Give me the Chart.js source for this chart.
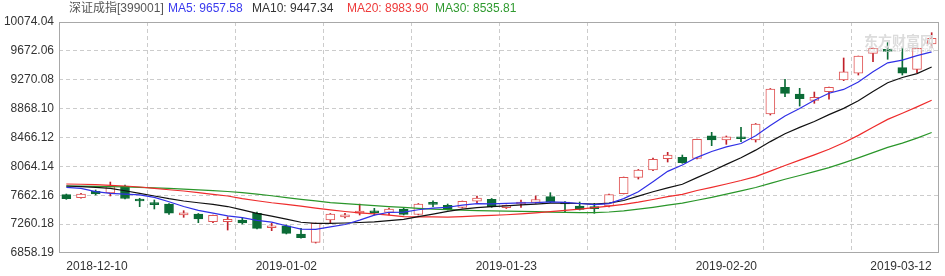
<!DOCTYPE html>
<html>
<head>
<meta charset="utf-8">
<script src="https://cdn.jsdelivr.net/npm/chart.js@4.4.0/dist/chart.umd.min.js"></script>
<style>
  body { margin: 0; background: #fff; }
  #wrap { position: relative; width: 945px; height: 276px; }
  .hd { position: absolute; top: 1px; font-size: 12px; line-height: 14px; white-space: nowrap;
        font-family: "Liberation Sans", "Noto Sans CJK SC", sans-serif; }
  .wm { position: absolute; white-space: nowrap; color: #dcdcdc; }
</style>
</head>
<body>
<div id="wrap">
  <canvas id="kline" width="945" height="276"></canvas>
  <span class="hd" style="left:69px;color:#555">深证成指[399001]</span>
  <span class="hd" style="left:168px;color:#3a3aee">MA5: 9657.58</span>
  <span class="hd" style="left:252px;color:#333">MA10: 9447.34</span>
  <span class="hd" style="left:347px;color:#ee3a3a">MA20: 8983.90</span>
  <span class="hd" style="left:435px;color:#2f9a2f">MA30: 8535.81</span>
  <span class="wm" style="left:864px;top:30px;font:bold 14px 'Noto Sans CJK SC'">东方财富网</span>
  <span class="wm" style="left:866px;top:46px;font:7px 'Liberation Sans'">quote.eastmoney.com</span>
</div>
<script>
// trading days shown on the chart
const dates = [
  "2018-12-10", "2018-12-11", "2018-12-12", "2018-12-13", "2018-12-14", "2018-12-17",
  "2018-12-18", "2018-12-19", "2018-12-20", "2018-12-21", "2018-12-24", "2018-12-25",
  "2018-12-26", "2018-12-27", "2018-12-28", "2019-01-02", "2019-01-03", "2019-01-04",
  "2019-01-07", "2019-01-08", "2019-01-09", "2019-01-10", "2019-01-11", "2019-01-14",
  "2019-01-15", "2019-01-16", "2019-01-17", "2019-01-18", "2019-01-21", "2019-01-22",
  "2019-01-23", "2019-01-24", "2019-01-25", "2019-01-28", "2019-01-29", "2019-01-30",
  "2019-01-31", "2019-02-01", "2019-02-11", "2019-02-12", "2019-02-13", "2019-02-14",
  "2019-02-15", "2019-02-18", "2019-02-19", "2019-02-20", "2019-02-21", "2019-02-22",
  "2019-02-25", "2019-02-26", "2019-02-27", "2019-02-28", "2019-03-01", "2019-03-04",
  "2019-03-05", "2019-03-06", "2019-03-07", "2019-03-08", "2019-03-11", "2019-03-12",
];
const tickDates = ["2018-12-10", "2019-01-02", "2019-01-23", "2019-02-20", "2019-03-12"];
const yTicks = [6858.19, 7260.18, 7662.16, 8064.14, 8466.12, 8868.10, 9270.08, 9672.06, 10074.04];

// candles
const opens = [
  7670, 7628, 7717, 7693, 7787, 7596, 7550, 7540, 7387, 7401, 7294, 7294,
  7318, 7411, 7210, 7238, 7123, 7007, 7318, 7359, 7411, 7443, 7424, 7471,
  7394, 7550, 7522, 7494, 7578, 7606, 7489, 7540, 7561, 7642, 7568, 7513,
  7494, 7513, 7684, 7912, 8014, 8171, 8190, 8176, 8491, 8431, 8473, 8431,
  8793, 9165, 9072, 8984, 9104, 9267, 9360, 9638, 9684, 9438, 9415, 9768,
];
const highs = [
  7679, 7688, 7735, 7846, 7805, 7620, 7596, 7547, 7447, 7408, 7387, 7363,
  7355, 7429, 7272, 7248, 7202, 7276, 7408, 7411, 7540, 7480, 7485, 7485,
  7547, 7586, 7540, 7582, 7652, 7617, 7526, 7596, 7652, 7698, 7575, 7568,
  7550, 7680, 7916, 8021, 8181, 8260, 8222, 8445, 8538, 8487, 8608, 8661,
  9148, 9276, 9151, 9099, 9169, 9573, 9600, 9712, 9786, 9722, 9712, 9925,
];
const lows = [
  7605, 7620, 7666, 7652, 7610, 7503, 7471, 7394, 7355, 7280, 7280, 7178,
  7262, 7192, 7169, 7123, 7063, 6997, 7272, 7345, 7387, 7387, 7387, 7387,
  7387, 7503, 7457, 7485, 7559, 7494, 7478, 7494, 7550, 7559, 7433, 7457,
  7411, 7499, 7680, 7888, 8004, 8125, 8107, 8167, 8352, 8371, 8408, 8403,
  8779, 9034, 8904, 8942, 8998, 9257, 9336, 9521, 9555, 9336, 9368, 9721,
];
const closes = [
  7614, 7680, 7680, 7784, 7617, 7582, 7531, 7411, 7419, 7331, 7383, 7327,
  7276, 7202, 7238, 7132, 7071, 7272, 7401, 7391, 7443, 7419, 7471, 7397,
  7540, 7536, 7466, 7578, 7624, 7503, 7522, 7554, 7603, 7572, 7540, 7466,
  7475, 7670, 7912, 8014, 8163, 8222, 8115, 8441, 8431, 8477, 8449, 8654,
  9141, 9081, 9006, 9026, 9165, 9382, 9600, 9708, 9666, 9360, 9708, 9847,
];

// moving average lines
const ma5 = [
  7773, 7759, 7712, 7689, 7678, 7668, 7632, 7572, 7505, 7452, 7413, 7374,
  7350, 7312, 7287, 7238, 7190, 7186, 7223, 7255, 7316, 7386, 7425, 7428,
  7460, 7484, 7495, 7525, 7545, 7543, 7549, 7555, 7560, 7571, 7564, 7547,
  7532, 7546, 7615, 7710, 7850, 7995, 8083, 8190, 8272, 8336, 8383, 8489,
  8632, 8765, 8870, 8985, 9082, 9135, 9238, 9382, 9506, 9544, 9605, 9657.58,
];
const ma10 = [
  7791, 7781, 7773, 7759, 7725, 7689, 7652, 7614, 7582, 7558, 7535, 7505,
  7458, 7410, 7372, 7330, 7286, 7272, 7270, 7276, 7283, 7292, 7310, 7327,
  7365, 7400, 7438, 7468, 7490, 7504, 7514, 7527, 7538, 7552, 7553, 7547,
  7540, 7552, 7589, 7650, 7711, 7765, 7815, 7907, 7997, 8092, 8184, 8290,
  8409, 8518, 8607, 8689, 8785, 8872, 8979, 9105, 9229, 9302, 9356, 9447.34,
];
const ma20 = [
  7819, 7815, 7809, 7801, 7791, 7777, 7759, 7739, 7721, 7698, 7675, 7652,
  7614, 7586, 7558, 7536, 7510, 7482, 7458, 7436, 7418, 7402, 7386, 7365,
  7362, 7360, 7357, 7364, 7374, 7383, 7391, 7403, 7418, 7435, 7451, 7468,
  7490, 7510, 7536, 7567, 7603, 7643, 7675, 7728, 7772, 7819, 7868, 7922,
  7998, 8077, 8151, 8225, 8303, 8393, 8496, 8608, 8718, 8803, 8892, 8983.90,
];
const ma30 = [
  7790, 7788, 7785, 7782, 7778, 7772, 7765, 7757, 7748, 7738, 7727, 7714,
  7698, 7677, 7655, 7630, 7606, 7583, 7560, 7545, 7531, 7517, 7505, 7492,
  7480, 7470, 7462, 7455, 7449, 7444, 7441, 7437, 7434, 7428, 7424, 7421,
  7420, 7429, 7445, 7468, 7494, 7524, 7552, 7593, 7633, 7678, 7724, 7770,
  7828, 7885, 7937, 7991, 8047, 8113, 8182, 8255, 8328, 8388, 8457, 8535.81,
];

const upColor = "#e05555";
const upWick = "#c0202a";
const downColor = "#0b6b36";

const isUp = closes.map((c, i) => c >= opens[i]);
const bodies = opens.map((o, i) => [Math.min(o, closes[i]), Math.max(o, closes[i])]);
const wicks = lows.map((l, i) => [l, highs[i]]);

// gray box round the plot area
const frame = {
  id: "frame",
  afterDatasetsDraw(chart) {
    const { ctx, chartArea: a } = chart;
    ctx.save();
    ctx.strokeStyle = "#a8a8a8";
    ctx.lineWidth = 1;
    ctx.strokeRect(Math.round(a.left) + 0.5, Math.round(a.top) + 0.5,
      Math.round(a.right - a.left) - 1, Math.round(a.bottom - a.top) - 1);
    ctx.restore();
  },
};

const maLine = (label, data, color) => ({
  type: "line",
  label: label,
  data: data,
  borderColor: color,
  borderWidth: 1.2,
  pointRadius: 0,
  tension: 0,
  order: 0,
});

new Chart(document.getElementById("kline"), {
  data: {
    labels: dates,
    datasets: [
      maLine("MA5", ma5, "#3030e6"),
      maLine("MA10", ma10, "#111111"),
      maLine("MA20", ma20, "#ee2c2c"),
      maLine("MA30", ma30, "#2a962a"),
      {
        type: "bar",
        label: "body",
        data: bodies,
        backgroundColor: isUp.map((u) => (u ? "#ffffff" : downColor)),
        borderColor: isUp.map((u) => (u ? upColor : downColor)),
        borderWidth: 1,
        borderSkipped: false,
        barThickness: 9,
        minBarLength: 2,
        grouped: false,
        order: 1,
      },
      {
        type: "bar",
        label: "wick",
        data: wicks,
        backgroundColor: isUp.map((u) => (u ? upWick : downColor)),
        barThickness: 1,
        grouped: false,
        order: 2,
      },
    ],
  },
  options: {
    responsive: false,
    animation: false,
    layout: { padding: { top: 22, right: 6, left: 0, bottom: 0 } },
    plugins: { legend: { display: false }, tooltip: { enabled: false } },
    scales: {
      x: {
        type: "category",
        offset: true,
        afterFit: (scale) => { scale.height = 23; },
        grid: {
          offset: true,
          drawTicks: false,
          color: (c) => (c.index % 6 === 0 && c.index > 0 && c.index < dates.length ? "#cccccc" : "rgba(0,0,0,0)"),
        },
        border: { display: false, dash: [4, 3] },
        ticks: {
          autoSkip: false,
          maxRotation: 0,
          align: "inner",
          padding: 6,
          color: "#333",
          font: { family: "Liberation Sans", size: 12 },
          callback: (v, i) => (tickDates.includes(dates[i]) ? dates[i] : ""),
        },
      },
      y: {
        min: yTicks[0],
        max: yTicks[yTicks.length - 1],
        afterFit: (scale) => { scale.width = 59; },
        afterBuildTicks: (scale) => { scale.ticks = yTicks.map((v) => ({ value: v })); },
        grid: {
          drawTicks: false,
          color: (c) => (c.index > 0 && c.index < yTicks.length - 1 ? "#cccccc" : "rgba(0,0,0,0)"),
        },
        border: { display: false, dash: [4, 3] },
        ticks: {
          padding: 5,
          color: "#333",
          font: { family: "Liberation Sans", size: 12 },
          callback: (v) => Number(v).toFixed(2),
        },
      },
    },
  },
  plugins: [frame],
});
</script>
</body>
</html>
